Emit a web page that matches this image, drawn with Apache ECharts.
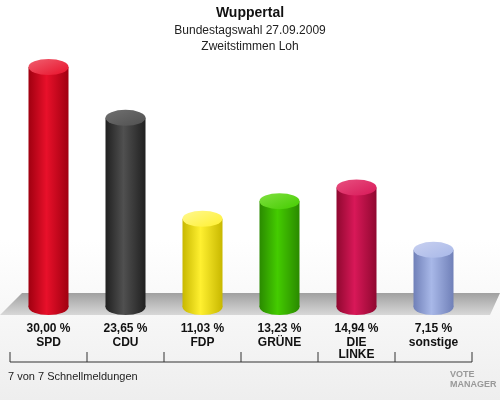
<!DOCTYPE html><html><head><meta charset="utf-8">
<script src="https://cdn.jsdelivr.net/npm/echarts@6/dist/echarts.min.js"></script>
<style>html,body{margin:0;padding:0}#c{width:500px;height:400px}</style></head><body><div id="c"></div>
<script>
const categories=['SPD','CDU','FDP','GRÜNE','DIE\nLINKE','sonstige'];
const values=[30.00,23.65,11.03,13.23,14.94,7.15];
const valueLabels=['30,00 %','23,65 %','11,03 %','13,23 %','14,94 %','7,15 %'];
const colors=[['#a00010','#e8102a','#f06070'],['#202020','#505050','#707070'],['#c8b800','#fff030','#fff890'],['#2a8a00','#44cc00','#80e040'],['#900830','#d81858','#e85080'],['#7080b8','#a8b8e8','#c8d0f0']];
const chart=echarts.init(document.getElementById('c'));
const grad=c=>new echarts.graphic.LinearGradient(0,0,1,0,[{offset:0,color:c[0]},{offset:0.45,color:c[1]},{offset:1,color:c[0]}]);
const ticks=[10,87,164,241,318,395,472];
const g=[
 {type:'polygon',shape:{points:[[22,293],[500,293],[490,315],[0,315]]},style:{fill:new echarts.graphic.LinearGradient(0,0,0,1,[{offset:0,color:'#a0a0a0'},{offset:1,color:'#d8d8d8'}])},z:-1},
 {type:'line',shape:{x1:10,y1:362,x2:472,y2:362},style:{stroke:'#333',lineWidth:1}}
];
ticks.forEach(x=>g.push({type:'line',shape:{x1:x,y1:352,x2:x,y2:362},style:{stroke:'#333',lineWidth:1}}));
g.push({type:'text',left:8,top:371,style:{text:'7 von 7 Schnellmeldungen',font:'11px Arial, Liberation Sans',fill:'#222'}});
g.push({type:'text',left:450,top:370,style:{text:'VOTE\nMANAGER',font:'bold 9px Arial, Liberation Sans',fill:'#999',lineHeight:10}});
chart.setOption({
 backgroundColor:new echarts.graphic.LinearGradient(0,0,0,1,[{offset:0,color:'#ffffff'},{offset:0.6,color:'#ffffff'},{offset:1,color:'#eeeeee'}]),
 title:{text:'Wuppertal',subtext:'Bundestagswahl 27.09.2009\nZweitstimmen Loh',left:'center',top:1,itemGap:3,
  textStyle:{fontSize:14,fontWeight:'bold',color:'#111',fontFamily:'Arial, Liberation Sans'},
  subtextStyle:{fontSize:12,color:'#222',lineHeight:16,fontFamily:'Arial, Liberation Sans'}},
 grid:{left:10,right:28,top:19,bottom:93},
 xAxis:{type:'category',data:categories,axisLine:{show:false},axisTick:{show:false},
  axisLabel:{interval:0,margin:14,formatter:(v,i)=>'{v|'+valueLabels[i]+'}\n{n|'+v+'}',
   rich:{v:{fontSize:12,fontWeight:'bold',color:'#111',lineHeight:16,fontFamily:'Arial, Liberation Sans'},n:{fontSize:12,fontWeight:'bold',color:'#111',lineHeight:12,fontFamily:'Arial, Liberation Sans'}}}},
 yAxis:{type:'value',min:0,max:36,show:false,splitLine:{show:false}},
 series:[
  {type:'bar',data:values.map((v,i)=>({value:v,itemStyle:{color:grad(colors[i])}})),barWidth:40,z:2},
  {type:'pictorialBar',data:values.map((v,i)=>({value:v,itemStyle:{color:grad(colors[i])}})),symbol:'circle',symbolSize:[40,16],symbolPosition:'start',symbolOffset:[0,'50%'],z:1},
  {type:'pictorialBar',data:values.map((v,i)=>({value:v,itemStyle:{color:new echarts.graphic.LinearGradient(0,0,1,1,[{offset:0,color:colors[i][2]},{offset:1,color:colors[i][1]}])}})),symbol:'circle',symbolSize:[40,16],symbolPosition:'end',symbolOffset:[0,'-50%'],z:3}
 ],
 graphic:g
});
</script></body></html>
